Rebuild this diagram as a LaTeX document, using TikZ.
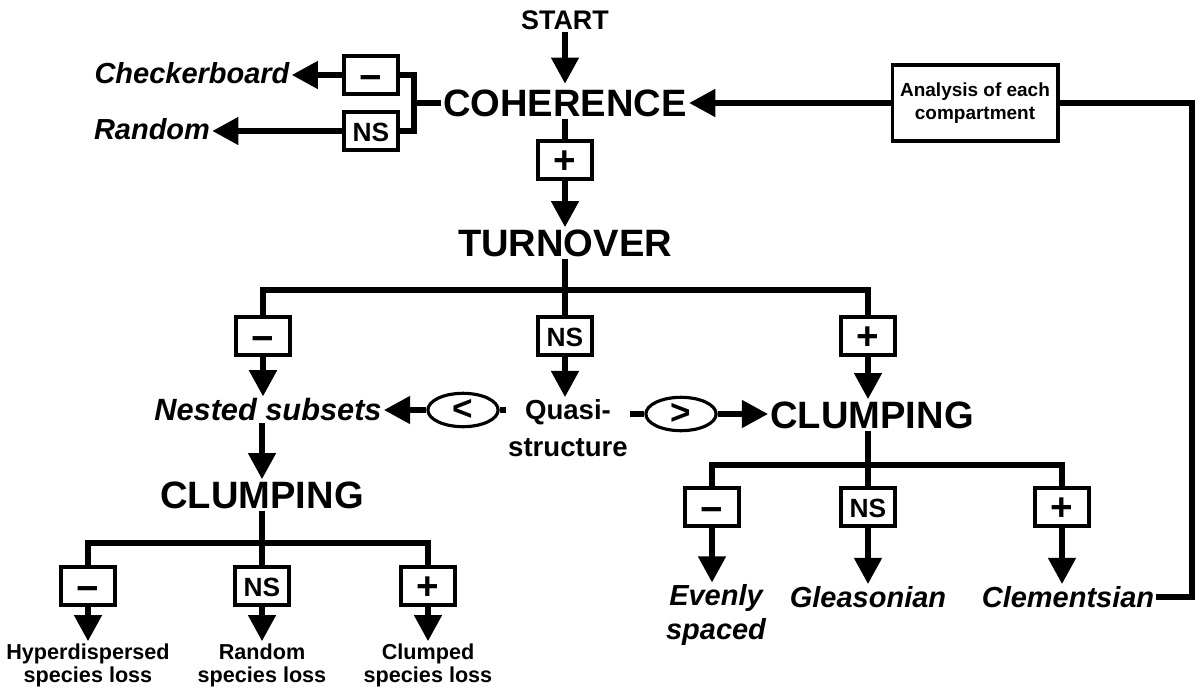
\documentclass[tikz,border=0pt]{standalone}
\usepackage{fontspec}
\setmainfont{Liberation Sans}
\usetikzlibrary{arrows.meta,shapes.geometric}
\newcommand{\signminus}{\raisebox{-3pt}{\fontsize{22}{22}\selectfont −}}
\newcommand{\signplus}{\raisebox{-2pt}{\fontsize{22}{22}\selectfont +}}

\begin{document}
\begin{tikzpicture}[x=0.02cm, y=-0.02cm,
    flow/.style={line width=3.7pt},
    arr/.style={flow, -{Triangle[length=15pt,width=15pt]}},
    sign/.style={draw, line width=2.2pt, fill=white, minimum width=31pt, minimum height=22pt, inner sep=0pt, text height=11.5pt, text depth=0pt, font=\bfseries\fontsize{15}{15}\selectfont},
    big/.style={font=\bfseries\fontsize{21.7}{24}\selectfont, inner sep=1pt},
    result/.style={font=\bfseries\itshape\fontsize{16.5}{19}\selectfont, inner sep=1pt, align=center},
    loss/.style={font=\bfseries\fontsize{12.3}{13}\selectfont, align=center, inner sep=1pt},
    cmp/.style={draw, ellipse, line width=1.8pt, minimum width=40pt, minimum height=19pt, inner sep=0pt, font=\bfseries\fontsize{20}{20}\selectfont}]
  \useasboundingbox (0,0) rectangle (1203,689);
  \node[font=\bfseries\fontsize{15.3}{17}\selectfont, inner sep=1pt] (start) at (565,20) {START};
  \node[big] (coh) at (565,103) {COHERENCE};
  \node[sign] (cm) at (371,75) {\signminus};
  \node[sign] (cn) at (371,131) {NS};
  \node[result] (checker) at (192,73) {Checkerboard};
  \node[result] (rand) at (152,129) {Random};
  \coordinate (br) at (414,103);
  \node[sign] (cp) at (565,160) {\signplus};
  \node[big] (turn) at (565,243) {TURNOVER};
  \coordinate (tb) at (565,290);
  \node[sign] (tm) at (263,336) {\signminus};
  \node[sign] (tn) at (565,336) {NS};
  \node[sign] (tp) at (868,336) {\signplus};
  \node[result, font=\bfseries\itshape\fontsize{17.5}{20}\selectfont] (nested) at (268,410) {Nested subsets};
  \node[cmp] (lt) at (463,410) {<};
  \node[font=\bfseries\fontsize{15.7}{21}\selectfont, align=center, inner sep=1pt] (quasi) at (568,428) {Quasi-\\structure};
  \node[cmp] (gt) at (681,414) {>};
  \node[big] (clumpR) at (872,415) {CLUMPING};
  \coordinate (rb) at (868,465);
  \node[sign] (rm) at (712,507) {\signminus};
  \node[sign] (rn) at (868,507) {NS};
  \node[sign] (rp) at (1062,507) {\signplus};
  \node[result] (even) at (716,615) {Evenly\\spaced};
  \node[result] (gleas) at (868,597) {Gleasonian};
  \node[result] (clem) at (1068,597) {Clementsian};
  \node[big] (clumpL) at (262,495) {CLUMPING};
  \coordinate (lb) at (262,543);
  \node[sign] (lm) at (88,586) {\signminus};
  \node[sign] (ln) at (262,586) {NS};
  \node[sign] (lp) at (428,586) {\signplus};
  \node[loss] (hyper) at (88,665) {Hyperdispersed\\species loss};
  \node[loss] (rloss) at (262,665) {Random\\species loss};
  \node[loss] (closs) at (428,665) {Clumped\\species loss};
  \node[draw, line width=2.2pt, minimum width=94pt, minimum height=43pt, align=center, font=\bfseries\fontsize{10.8}{13}\selectfont] (anl) at (975,103) {Analysis of each\\compartment};
  \coordinate (loop) at (1192,600);

  \draw[arr, shorten >=2pt] (start) -- (coh);
  \draw[flow] (coh.west) -- (br);
  \draw[flow] (cm.east) -- (cm.east -| br) -- (cn.east -| br) -- (cn.east);
  \draw[arr] (cm.west) -- (cm.west -| checker.east);
  \draw[arr] (cn.west) -- (cn.west -| rand.east);
  \draw[flow] (coh) -- (cp);
  \draw[arr] (cp) -- (turn);
  \draw[flow] (turn) -- (tb);
  \draw[flow] (tm.north) |- (tb) -| (tp.north);
  \draw[flow] (tb) -- (tn);
  \draw[arr] (tm.south) -- (tm.south |- nested.north);
  \draw[arr] (tn.south) -- (tn.south |- quasi.north);
  \draw[arr] (tp.south) -- (tp.south |- clumpR.north);
  \draw[arr] (lt) -- (nested);
  \draw[flow] (lt.east) -- (lt.east -| quasi.west);
  \draw[flow] (gt.west -| quasi.east) -- (gt.west);
  \draw[arr] (gt.east) -- (gt.east -| clumpR.west);
  \draw[flow] (rb |- clumpR.south) -- (rb);
  \draw[flow] (rm.north) |- (rb) -| (rp.north);
  \draw[flow] (rb) -- (rn);
  \draw[arr] (rm.south) -- (rm.south |- even.north);
  \draw[arr] (rn.south) -- (rn.south |- gleas.north);
  \draw[arr] (rp.south) -- (rp.south |- clem.north);
  \draw[flow] (clem.east) -- (clem.east -| loop) -- (loop |- anl) -- (anl.east);
  \draw[arr] (anl) -- (coh);
  \draw[arr] (nested.south -| clumpL) -- (clumpL.north);
  \draw[flow] (clumpL) -- (lb);
  \draw[flow] (lm.north) |- (lb) -| (lp.north);
  \draw[flow] (lb) -- (ln);
  \draw[arr] (lm.south) -- (lm.south |- hyper.north);
  \draw[arr] (ln.south) -- (ln.south |- rloss.north);
  \draw[arr] (lp.south) -- (lp.south |- closs.north);
\end{tikzpicture}
\end{document}
